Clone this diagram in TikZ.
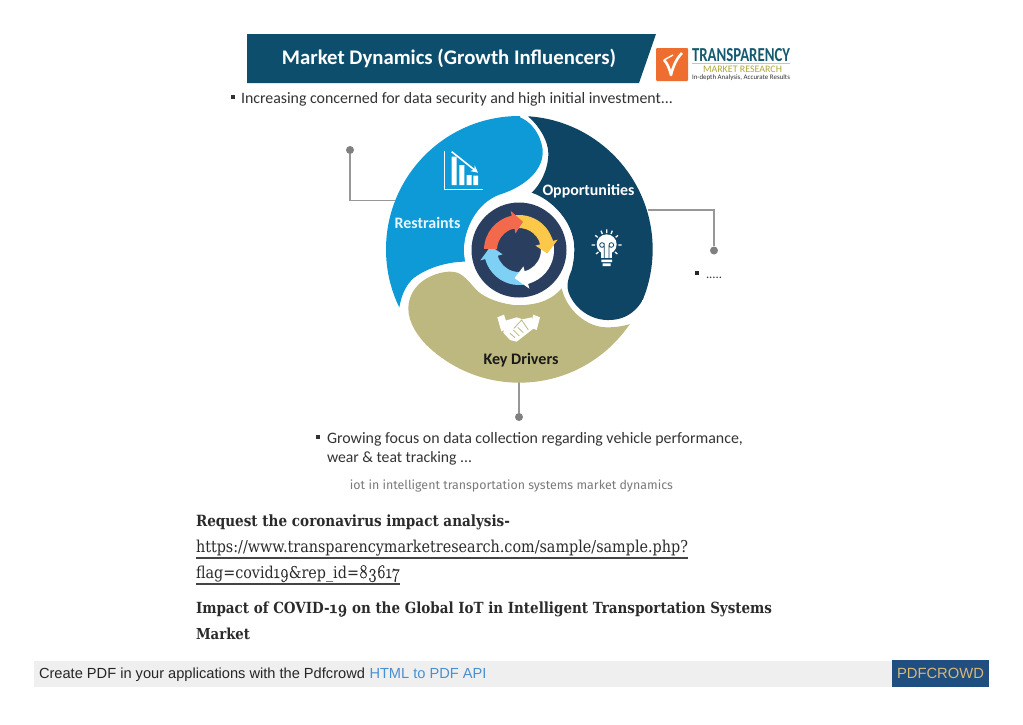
\documentclass[tikz,border=0pt]{standalone}
\usetikzlibrary{arrows.meta}
\usepackage{fontspec}
\setmainfont{Carlito}
\newfontfamily\serifface{DejaVu Serif}
\newfontfamily\oldnum[Numbers=OldStyle,FakeBold=0.6]{Latin Modern Roman}
\newfontfamily\footface{Liberation Sans}
\newfontfamily\capface{Fira Sans}
\definecolor{headblue}{HTML}{0C4E6C}
\definecolor{cblue}{HTML}{0E9AD6}
\definecolor{cdark}{HTML}{0F4564}
\definecolor{colive}{HTML}{BDB87F}
\definecolor{cinner}{HTML}{2A3F5F}
\definecolor{ared}{HTML}{F2694B}
\definecolor{ayellow}{HTML}{FBC84A}
\definecolor{ablue}{HTML}{7FD0F5}
\definecolor{lorange}{HTML}{EE6E2F}
\definecolor{lteal}{HTML}{14596F}
\definecolor{footbg}{HTML}{EFEFEF}
\definecolor{footbox}{HTML}{1F4E7F}
\definecolor{foottan}{HTML}{D8B778}
\definecolor{linkblue}{HTML}{4A90D0}
\definecolor{textgrey}{HTML}{333333}
\definecolor{capgrey}{HTML}{7A7A7A}
\definecolor{linegrey}{HTML}{979797}
\definecolor{bodyink}{HTML}{2B2B2B}
\definecolor{ruleink}{HTML}{444444}
\newcommand{\fitto}[2]{\resizebox{#1pt}{!}{#2}}
\newcommand{\fitser}[2]{\resizebox{#1pt}{!}{\scalebox{1}[1.14]{\fontsize{14}{14}\selectfont\serifface #2}}}
\newcommand{\onum}[1]{{\fontsize{16.5}{16.5}\selectfont\oldnum #1}}
\newcommand{\cirarrow}[4]{% colour, start, base, tip
  \fill[#1] (#2:35) arc[start angle=#2,end angle=#3,radius=35] -- (#3:40) -- (#4:28.5) -- (#3:17) -- (#3:22)
    arc[start angle=#3,end angle=#2,radius=22] -- cycle;}
\tikzset{
  txt/.style={inner sep=0pt,outer sep=0pt},
  bodyline/.style={txt,anchor=base west,text=bodyink},
  bullettxt/.style={txt,anchor=base west,text=textgrey},
  squarebullet/.style={fill=#1,inner sep=0pt,minimum size=4.5pt},
  leader/.style={draw=linegrey,line width=1.3pt},
  leaderdot/.style={circle,fill=linegrey!85!black,inner sep=0pt,minimum size=8pt},
  iconline/.style={draw=white,line width=1.4pt},
}
\begin{document}
\begin{tikzpicture}[x=1pt,y=-1pt]
\useasboundingbox (0,0) rectangle (1023,724);
\fill[white] (0,0) rectangle (1023,724);
% header
\fill[headblue] (247,34) -- (656,34) -- (639,83) -- (247,83) -- cycle;
\node[txt,text=white] (title) at (449,58.5) {\fitto{334}{\fontsize{21}{21}\selectfont\bfseries Market Dynamics (Growth Influencers)}};
% logo
\fill[lorange,rounded corners=1pt] (656,48) rectangle (688,81);
\draw[white,line width=2.6pt,line join=round] (664,60) .. controls (667,63) and (669,67) .. (671,75) .. controls (673,66) and (677,58) .. (682,53);
\draw[white,line width=1.4pt] (664,60) -- (673,55);
\node[txt,text=lteal] (logoa) at (741,55) {\resizebox{98pt}{13pt}{\bfseries TRANSPARENCY}};
\draw[green!40!gray!50,line width=.7pt] (692,63.5) -- (790,63.5);
\node[txt,text=olive!70!white] (logob) at (742.5,69) {\fitto{79}{\fontsize{8}{8}\selectfont MARKET RESEARCH}};
\node[txt,text=textgrey] (logoc) at (741,78) {\fitto{98}{\fontsize{6}{6}\selectfont In-depth Analysis, Accurate Results}};
% top bullet
\node[squarebullet=textgrey] (b1) at (233,97) {};
\node[bullettxt] (b1t) at (241,103) {\fitto{432}{\fontsize{16}{16}\selectfont Increasing concerned for data security and high initial investment...}};
% leader coordinates
\coordinate (rs) at (395,200.7);
\coordinate (rc) at (350,200.7);
\coordinate (os) at (648,210);
\coordinate (oc) at (714,210);
\coordinate (ks) at (519,381);
\node[leaderdot] (rd) at (350,150) {};
\node[leaderdot] (od) at (714,250.5) {};
\node[leaderdot] (kd) at (519,417) {};
\draw[leader] (rs) -- (rc) -- (rd);
\draw[leader] (os) -- (oc) -- (od);
\draw[leader] (ks) -- (kd);
% wheel
\begin{scope}[shift={(340,110)},x=0.33333pt,y=-0.33333pt]
 \begin{scope}
  \clip (538,418) circle[radius=400];
  \fill[cblue] (540,10) -- (540,22) .. controls (585,40) and (610,95) .. (608,130) .. controls (606,180) and (560,225) .. (490,250)
     .. controls (420,270) and (375,340) .. (373,418) -- (375,455) .. controls (330,455) and (265,470) .. (220,505) .. controls (195,528) and (183,560) .. (177,597) -- (100,620) -- (100,0) -- (540,0) -- cycle;
  \fill[cdark] (565,20) .. controls (600,50) and (625,95) .. (625,130) .. controls (625,180) and (600,225) .. (575,248)
     .. controls (640,270) and (703,340) .. (703,418) .. controls (703,440) and (700,460) .. (695,480) .. controls (682,510) and (680,530) .. (685,545)
     .. controls (700,590) and (745,628) .. (800,630) .. controls (860,632) and (905,600) .. (930,520) -- (1000,500) -- (1000,0) -- (565,0) -- cycle;
  \fill[colive] (205,595) .. controls (205,560) and (225,525) .. (260,505) .. controls (290,488) and (340,475) .. (365,495)
     .. controls (385,510) and (395,525) .. (405,535)
     .. controls (430,565) and (490,585) .. (540,585) .. controls (600,585) and (640,565) .. (665,535)
     .. controls (680,600) and (740,652) .. (800,652) .. controls (825,652) and (845,650) .. (870,642)
     -- (1000,642) -- (1000,900) -- (200,900) -- (262,708) .. controls (235,680) and (205,640) .. (205,595) -- cycle;
 \end{scope}
 % falling chart icon
 \draw[iconline] (313,123) -- (313,238) -- (430,238);
 \fill[white] (335,140) rectangle (350,225) (358,165) rectangle (373,225) (380,195) rectangle (395,225) (400,197) rectangle (414,225);
 \draw[iconline,line width=1.6pt,-{Stealth[length=7pt,width=7pt]}] (335,125) -- (414,188);
 % bulb icon
 \fill[white] (800,403) circle[radius=30];
 \fill[white] (783,425) rectangle (817,445);
 \fill[white] (784,449) rectangle (816,456) (788,460) rectangle (812,468);
 \draw[cdark,line width=.8pt] (793,445) -- (793,405) arc[start angle=0,end angle=360,radius=7];
 \draw[cdark,line width=.8pt] (807,445) -- (807,405) arc[start angle=180,end angle=540,radius=7];
 \draw[white,line width=1.3pt] (755,405) -- (765,405) (835,405) -- (845,405) (766,376) -- (773,382) (834,376) -- (827,382) (783,362) -- (787,372) (817,362) -- (813,372) (800,358) -- (800,369) (768,432) -- (775,426) (832,432) -- (825,426);
 % handshake icon
 \fill[white] (472,622) -- (492,614) -- (505,655) -- (484,664) -- cycle;
 \fill[white] (580,614) -- (600,622) -- (590,660) -- (570,652) -- cycle;
 \fill[white] (497,632) -- (530,622) -- (548,628) -- (575,622) -- (585,652) -- (530,695) -- (510,690) -- (490,668) -- cycle;
 \draw[colive,line width=.8pt] (522,655) -- (545,630) -- (565,660) (510,670) -- (525,683) (520,660) -- (538,678) (533,652) -- (550,668);
\end{scope}
% centre
\fill[white] (519,250) circle[radius=55];
\fill[cinner] (519,250) circle[radius=47.5];
\begin{scope}[shift={(519,250)},x=1pt,y=1pt]
 \cirarrow{ablue}{290}{195}{172}
 \cirarrow{white}{380}{285}{261}
 \cirarrow{ayellow}{105}{15}{-7}
 \cirarrow{ared}{178}{102}{82}
\end{scope}
% wheel labels
\node[txt,text=white] (opp) at (588.5,191) {\fitto{92}{\fontsize{15}{15}\selectfont\bfseries Opportunities}};
\node[txt,text=white!90!cblue] (res) at (427.5,222.5) {\fitto{66}{\fontsize{14}{14}\selectfont\bfseries Restraints}};
\node[txt,text=black!90] (key) at (521,360.5) {\fitto{75}{\fontsize{15}{15}\selectfont\bfseries Key Drivers}};
% dots bullet
\node[squarebullet=black!85,minimum size=3.5pt] (b2) at (697,273) {};
\node[bullettxt] (b2t) at (706,278) {\fitto{16}{\fontsize{10}{10}\selectfont .....}};
% lower bullet
\node[squarebullet=textgrey] (b3) at (318,437) {};
\node[bullettxt] (b3a) at (327,443.5) {\fitto{416}{\fontsize{16}{16}\selectfont Growing focus on data collection regarding vehicle performance,}};
\node[bullettxt] (b3b) at (327,462.5) {\fitto{145}{\fontsize{16}{16}\selectfont wear \& teat tracking ...}};
% caption
\node[txt,text=capgrey] (cap) at (511.5,486) {\fitto{323}{\fontsize{13}{13}\selectfont\capface iot in intelligent transportation systems market dynamics}};
% body
\node[bodyline] (l1) at (196,526) {\fitser{314}{\bfseries Request the coronavirus impact analysis-}};
\node[bodyline] (l2) at (196,552) {\fitser{492}{https://www.transparencymarketresearch.com/sample/sample.php?}};
\draw[ruleink,line width=1.1pt] (196,558) -- (688,558);
\node[bodyline] (l3) at (196,578) {\fitser{204}{flag=covid\onum{19}\&rep\_id=\onum{83617}}};
\draw[ruleink,line width=1.1pt] (196,584) -- (400,584);
\node[bodyline] (l4) at (196,613) {\fitser{576}{\bfseries Impact of COVID-\onum{19} on the Global IoT in Intelligent Transportation Systems}};
\node[bodyline] (l5) at (196,639) {\fitser{54}{\bfseries Market}};
% footer
\fill[footbg] (34,661) rectangle (892,687);
\fill[footbox] (892,660) rectangle (989,687);
\node[txt,anchor=base west,text=black!85] (f1) at (39,678) {\fitto{326}{\fontsize{14.5}{14.5}\selectfont\footface Create PDF in your applications with the Pdfcrowd}};
\node[txt,anchor=base west,text=linkblue] (f2) at (369.5,678) {\fitto{117}{\fontsize{14.5}{14.5}\selectfont\footface HTML to PDF API}};
\node[txt,text=foottan] (f3) at (940.5,673.5) {\fitto{87}{\fontsize{14.5}{14.5}\selectfont\footface PDFCROWD}};
\end{tikzpicture}
\end{document}
